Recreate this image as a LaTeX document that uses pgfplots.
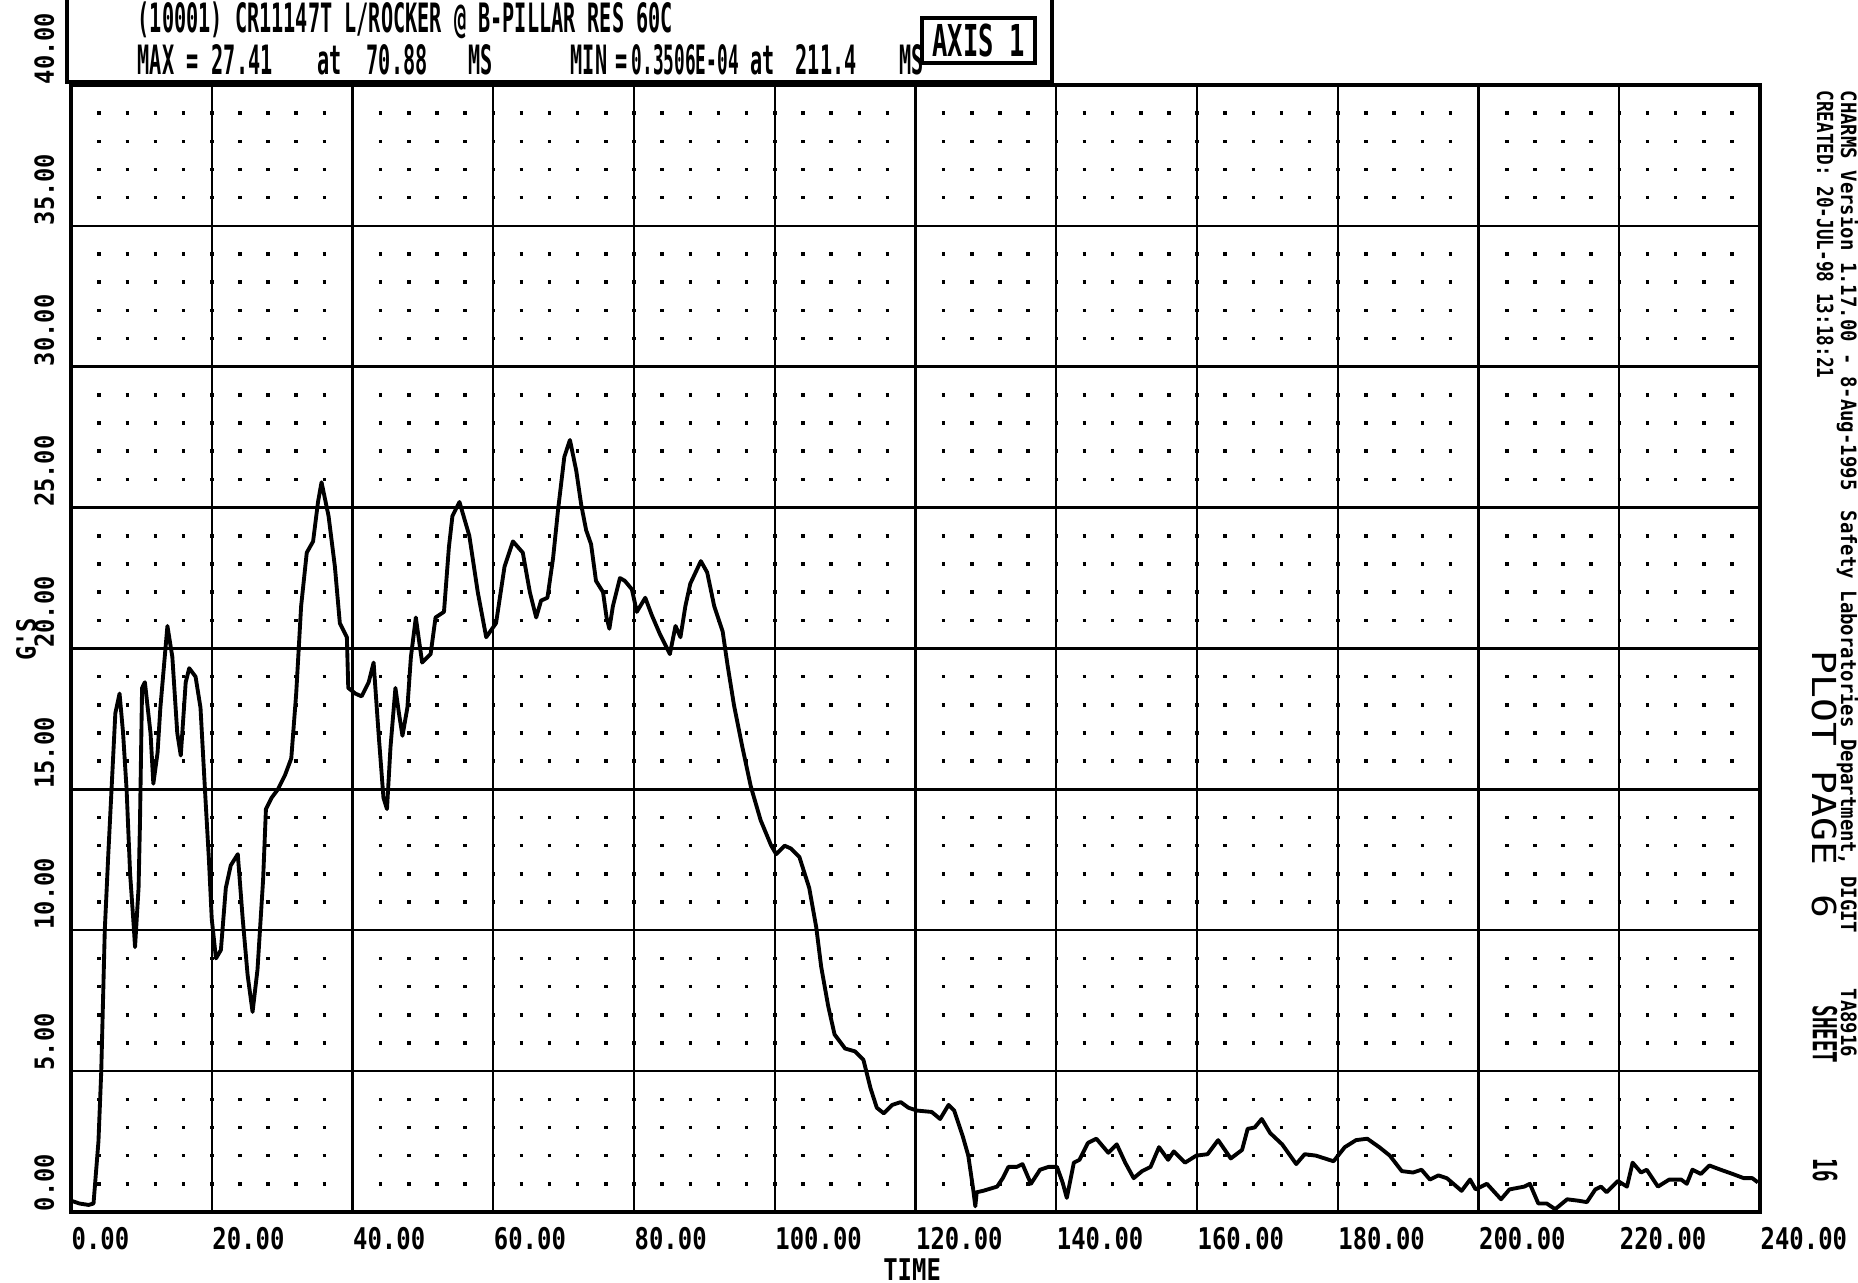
\documentclass[border=0pt]{standalone}
\usepackage{pgfplots}
\pgfplotsset{compat=1.18}
\usepackage{fontspec}
\setmainfont{DejaVu Sans Mono}
\newfontfamily\fhdr[FakeStretch=0.5]{DejaVu Sans Mono}
\newfontfamily\fhdrn[FakeStretch=0.44]{DejaVu Sans Mono}
\newfontfamily\faxs[FakeStretch=0.58]{DejaVu Sans Mono}
\newfontfamily\ftick[FakeStretch=0.8]{DejaVu Sans Mono}
\newfontfamily\fticky[FakeStretch=0.9]{DejaVu Sans Mono}
\newfontfamily\fpage[FakeStretch=1.2]{DejaVu Sans Mono}

\pgfplotstableread{
t g
0 0.4
1.2 0.3
2.5 0.25
3.2 0.3
3.9 2.5
4.3 5
4.8 10
5.3 12.7
5.8 15.2
6.3 17.7
6.9 18.4
7.4 17
7.9 15
8.4 12
8.9 10.2
9.1 9.4
9.6 11.5
9.8 13.8
10.1 18.6
10.5 18.8
11.3 17
11.7 15.2
12.3 16.3
12.7 17.9
13.7 20.8
14.4 19.7
15.1 17
15.6 16.2
16.3 18.8
16.8 19.3
17.7 19
18.4 17.9
19.1 14.7
19.6 12.5
20.0 10.4
20.6 9.0
21.3 9.3
22.0 11.5
22.7 12.3
23.7 12.7
24.4 10.4
25.1 8.4
25.8 7.1
26.5 8.6
27.3 11.8
27.7 14.3
28.5 14.7
29.4 15
30.4 15.5
31.3 16.1
32.0 18.4
32.7 21.5
33.5 23.4
34.4 23.8
35.1 25.2
35.6 25.9
36.6 24.7
37.5 22.9
38.2 20.9
39.2 20.4
39.4 18.6
40.4 18.4
41.3 18.3
42.3 18.8
43.0 19.5
43.7 17
44.4 14.7
44.9 14.3
45.4 16.5
46.1 18.6
46.6 17.7
47.1 16.9
47.8 17.9
48.3 19.7
49.0 21.1
49.5 20.2
49.9 19.5
51.1 19.8
51.8 21.1
53.0 21.3
53.7 23.6
54.2 24.7
55.2 25.2
56.6 24
57.8 22
59.0 20.4
60.4 20.9
61.6 22.9
62.8 23.8
64.2 23.4
65.2 22
66.1 21.1
66.8 21.7
67.7 21.8
68.5 23.2
69.2 24.9
70.1 26.8
70.9 27.4
71.8 26.3
72.5 25.1
73.2 24.2
73.9 23.7
74.6 22.4
75.6 22
76.1 21.1
76.5 20.7
77.0 21.5
78.0 22.5
78.7 22.4
79.7 22.1
80.4 21.3
81.6 21.8
82.5 21.2
83.7 20.5
85.1 19.8
85.9 20.8
86.6 20.4
87.3 21.5
88.0 22.3
89.5 23.1
90.4 22.7
91.4 21.5
92.6 20.6
93.3 19.4
94.2 18
95.4 16.5
96.6 15.1
98.0 13.9
99.5 13
100.2 12.7
101.4 13
102.3 12.9
103.5 12.6
104.9 11.5
105.9 10.1
106.6 8.7
107.6 7.3
108.5 6.3
110.0 5.8
111.4 5.7
112.6 5.4
113.6 4.4
114.5 3.7
115.5 3.5
116.7 3.8
117.9 3.9
119.0 3.7
120.2 3.6
122.3 3.55
123.5 3.3
124.7 3.8
125.5 3.6
126.7 2.7
127.5 2.0
128.2 0.8
128.5 0.2
128.7 0.7
129.6 0.75
131.6 0.9
132.4 1.2
133.2 1.6
134.4 1.6
135.2 1.7
136.4 1.0
137.7 1.5
138.9 1.6
140.1 1.6
140.9 1.05
141.5 0.5
142.5 1.75
143.3 1.85
144.5 2.45
145.7 2.6
147.4 2.1
148.6 2.4
149.8 1.75
151.0 1.2
152.2 1.45
153.4 1.6
154.6 2.3
155.9 1.85
156.7 2.15
158.3 1.75
159.9 2.0
161.5 2.05
163.0 2.55
164.8 1.9
166.4 2.2
167.2 2.95
168.2 3.0
169.2 3.3
170.4 2.8
172.1 2.4
174.1 1.7
175.3 2.05
176.9 2.0
179.4 1.8
181.0 2.3
182.6 2.55
184.2 2.6
185.9 2.3
187.4 2.0
189.1 1.45
190.7 1.4
191.9 1.5
193.1 1.15
194.3 1.3
195.5 1.2
197.6 0.75
198.8 1.15
199.6 0.8
201.2 1.0
203.2 0.45
204.4 0.8
206.5 0.9
207.3 1.0
208.5 0.3
209.7 0.3
210.9 0.1
212.6 0.45
214.2 0.4
215.4 0.35
216.6 0.8
217.4 0.9
218.2 0.7
219.8 1.1
221.1 0.9
221.9 1.75
223.1 1.4
223.9 1.5
225.5 0.9
227.1 1.15
228.8 1.15
229.6 1.0
230.4 1.5
231.6 1.35
232.8 1.65
234.4 1.5
236.1 1.35
237.7 1.2
238.9 1.2
239.7 1.05
}\gtrace

\begin{document}
\begin{tikzpicture}
\begin{axis}[
    at={(0.71cm,0.71cm)}, anchor=south west,
    width=16.89cm, height=11.27cm, scale only axis,
    xmin=0, xmax=240, ymin=0, ymax=40,
    xtick={0,20,...,240}, ytick={0,5,...,40},
    minor x tick num=4, minor y tick num=4,
    xmajorgrids, ymajorgrids, yminorgrids,
    major grid style={black, line width=0.7pt},
    minor grid style={black, line width=1pt, dash pattern=on 1pt off 7.01pt, dash phase=0.5pt},
    major tick length=0pt, minor tick length=0pt,
    axis line style={black, line width=1.1pt},
    xticklabel style={font=\ftick\bfseries\fontsize{8.5}{10}\selectfont, anchor=north west, inner sep=0pt},
    xticklabel shift=0.15cm,
    yticklabel style={font=\fticky\bfseries\fontsize{7.5}{9}\selectfont, rotate=90, anchor=south west, inner sep=0pt},
    yticklabel shift=0.16cm,
    xlabel={TIME}, ylabel={G'S},
    xlabel style={font=\ftick\bfseries\fontsize{8.5}{10}\selectfont, inner sep=0pt,
        at={(axis description cs:0.498,-0.0515)}, anchor=center},
    ylabel style={font=\fticky\bfseries\fontsize{7.5}{9}\selectfont, inner sep=0pt,
        at={(axis description cs:-0.0266,0.508)}, anchor=center},
    /pgf/number format/fixed, /pgf/number format/fixed zerofill,
    /pgf/number format/precision=2, /pgf/number format/assume math mode=true,
]
\addplot[black, line width=1.1pt, line join=round] table[x=t, y=g] {\gtrace};
\end{axis}

% header box
\draw[line width=0.9pt] (0.67,12.01) rectangle (10.52,12.95);
\begin{scope}[every node/.style={inner sep=0pt, anchor=base west, font=\fhdr\bfseries\fontsize{11.5}{13}\selectfont}]
\node at (1.37,12.50) {(10001) CR11147T L/ROCKER @ B-PILLAR RES 60C};
\node at (1.37,12.08) {MAX};
\node at (1.86,12.08) {=};
\node at (2.11,12.08) {27.41};
\node at (3.17,12.08) {at};
\node at (3.66,12.08) {70.88};
\node at (4.68,12.08) {MS};
\node at (5.70,12.08) {MIN};
\node at (6.15,12.08) {=};
\node[font=\fhdrn\bfseries\fontsize{11.5}{13}\selectfont] at (6.31,12.08) {0.3506E-04};
\node at (7.50,12.08) {at};
\node at (7.95,12.08) {211.4};
\node at (8.99,12.08) {MS};
\end{scope}
\draw[line width=1.1pt] (9.22,12.20) rectangle (10.35,12.65);
\node[inner sep=0pt, font=\faxs\bfseries\fontsize{12.5}{14}\selectfont] at (9.785,12.42) {AXIS 1};

% side annotations
\begin{scope}[every node/.style={inner sep=0pt, rotate=-90}]
\node[anchor=base west, font=\fticky\bfseries\fontsize{6}{7}\selectfont] at (18.41,11.93) {CHARMS Version 1.17.00 - 8-Aug-1995};
\node[anchor=base west, font=\fticky\bfseries\fontsize{6}{7}\selectfont] at (18.41,7.73) {Safety Laboratories Department, DIGIT};
\node[anchor=base west, font=\fticky\bfseries\fontsize{6}{7}\selectfont] at (18.41,2.95) {TA8916};
\node[anchor=west, font=\ftick\bfseries\fontsize{6.3}{7}\selectfont] at (18.25,11.93) {CREATED: 20-JUL-98 13:18:21};
\node[anchor=west, font=\fpage\fontsize{9.4}{11}\selectfont] at (18.25,6.33) {PLOT PAGE};
\node[anchor=west, font=\fpage\fontsize{9.4}{11}\selectfont] at (18.25,3.89) {6};
\node[anchor=west, font=\faxs\bfseries\fontsize{9.4}{11}\selectfont] at (18.25,2.78) {SHEET};
\node[anchor=west, font=\faxs\bfseries\fontsize{9.4}{11}\selectfont] at (18.25,1.25) {16};
\end{scope}

\pgfresetboundingbox
\path[use as bounding box] (0,0) rectangle (18.58,12.83);
\end{tikzpicture}
\end{document}
